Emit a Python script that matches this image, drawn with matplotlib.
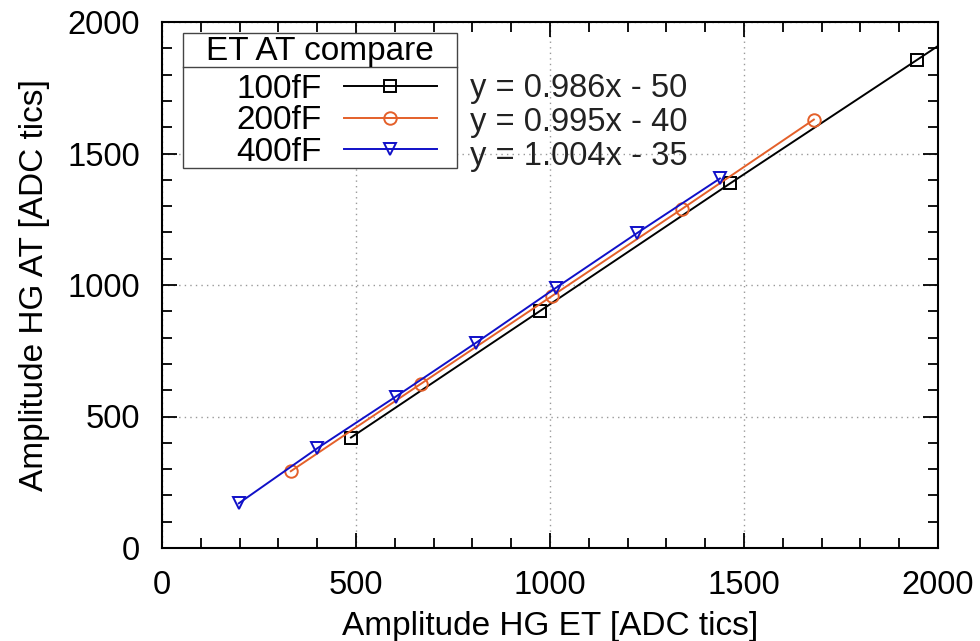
import matplotlib
matplotlib.use("Agg")
import matplotlib.pyplot as plt
from matplotlib.patches import Rectangle
from matplotlib.ticker import MultipleLocator

plt.rcParams['font.family'] = ['Liberation Sans', 'DejaVu Sans']

# ---- data ----
x_100 = [487, 974, 1464, 1946, 2430]
y_100 = [420, 901, 1386, 1856, 2330]
x_200 = [332, 668, 1005, 1341, 1680]
y_200 = [292, 625, 958, 1290, 1629]
x_400 = [198, 400, 603, 809, 1015, 1224, 1438]
y_400 = [170, 379, 576, 780, 989, 1197, 1405]

series_labels = ["100fF", "200fF", "400fF"]
fit_texts = ["y = 0.986x - 50", "y = 0.995x - 40", "y = 1.004x - 35"]
legend_title = "ET AT compare"
x_label = "Amplitude HG ET [ADC tics]"
y_label = "Amplitude HG AT [ADC tics]"

c_black = "#000000"
c_orange = "#e4602a"
c_blue = "#1010c8"

fig = plt.figure(figsize=(9.8, 6.41), dpi=100)
ax = fig.add_axes([162/980, 1-548/641, (938-162)/980, (548-22)/641])

lw = 1.4
h1, = ax.plot(x_100, y_100, color=c_black, lw=lw, marker='s', ms=8,
              mfc='none', mec=c_black, mew=1.4, label=series_labels[0])
h2, = ax.plot(x_200, y_200, color=c_orange, lw=lw, marker='o', ms=9,
              mfc='none', mec=c_orange, mew=1.4, label=series_labels[1])
h3, = ax.plot(x_400, y_400, color=c_blue, lw=lw, marker='v', ms=9,
              mfc='none', mec=c_blue, mew=1.4, label=series_labels[2])

ax.set_xlim(0, 2000)
ax.set_ylim(0, 2000)
ax.xaxis.set_major_locator(MultipleLocator(500))
ax.yaxis.set_major_locator(MultipleLocator(500))
ax.xaxis.set_minor_locator(MultipleLocator(100))
ax.yaxis.set_minor_locator(MultipleLocator(100))
ax.tick_params(which='both', direction='in', top=True, right=True, width=1.3, colors='black')
ax.tick_params(which='major', length=11, labelsize=23.5)
ax.tick_params(axis='x', which='major', pad=16)
ax.tick_params(axis='y', which='major', pad=16)
ax.tick_params(which='minor', length=7)
ax.grid(True, which='major', linestyle=(0, (1, 3)), color='#999999', lw=1.0)
for s in ax.spines.values():
    s.set_linewidth(1.5)
ax.set_xlabel(x_label, fontsize=24, labelpad=7)
ax.set_ylabel(y_label, fontsize=24, labelpad=12)

# legend box (gnuplot-style key with title)
ax.add_patch(Rectangle((0.027, 0.7224), 0.380 - 0.027, 0.979 - 0.7224,
                       transform=ax.transAxes, fill=True, facecolor='white',
                       edgecolor='#444444', lw=1.0, zorder=5))
ax.plot([0.027, 0.380], [0.9144, 0.9144], transform=ax.transAxes,
        color='#444444', lw=1.0, zorder=6)
ax.text(0.2036, 0.9435, legend_title, transform=ax.transAxes, fontsize=24,
        ha='center', va='center', zorder=7)

leg = ax.legend(handles=[h1, h2, h3], loc='upper right',
                bbox_to_anchor=(0.3544, 0.902), borderaxespad=0, fontsize=24,
                markerfirst=False, frameon=False, handlelength=2.8,
                handletextpad=0.65, labelspacing=0.02, borderpad=0)
leg.set_zorder(8)

for i, t in enumerate(fit_texts):
    ax.text(0.397, 0.8745 - i*0.0655, t, transform=ax.transAxes, fontsize=23.5,
            va='center', ha='left', color='#222222')

fig.savefig("out.png", dpi=100)
